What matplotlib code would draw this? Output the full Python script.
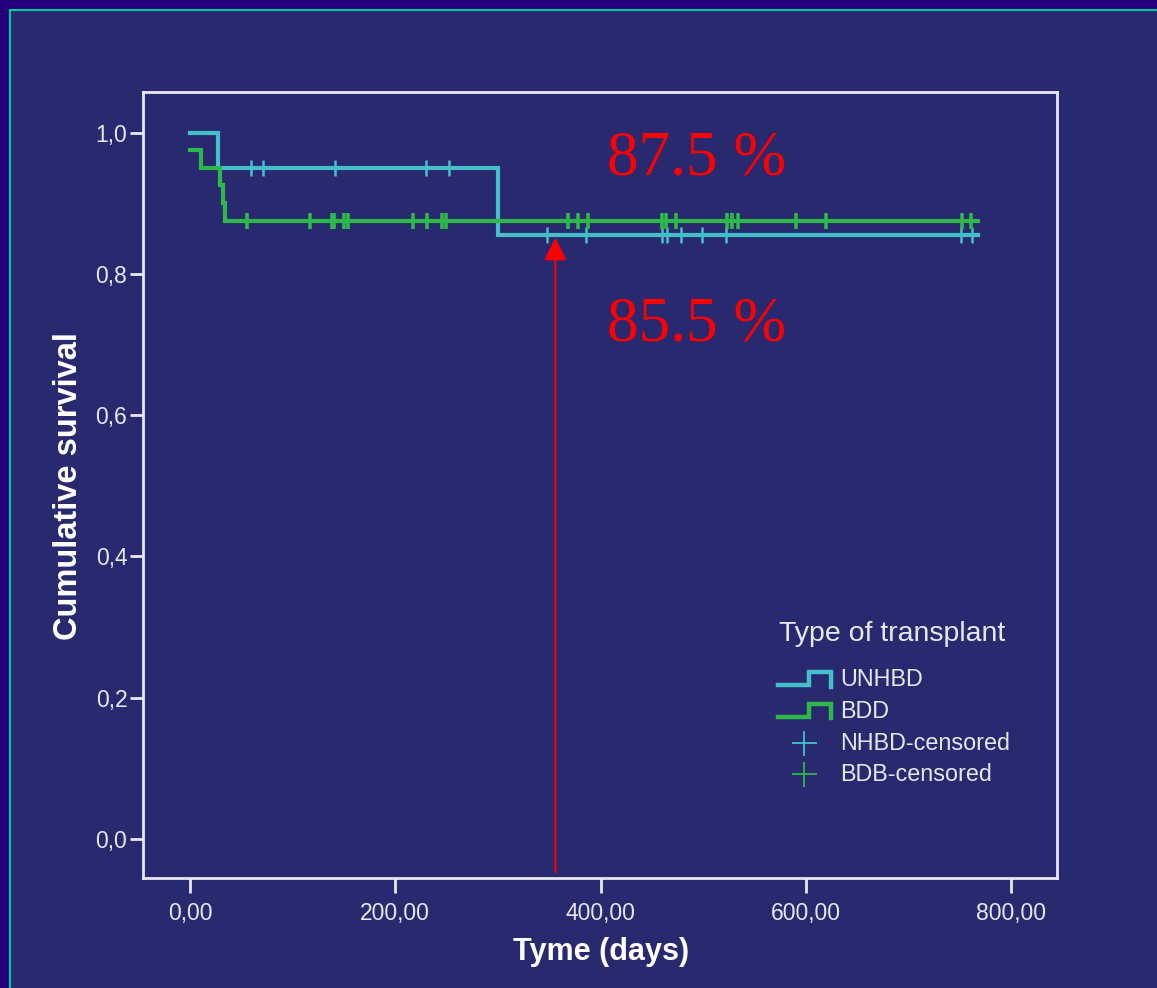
import matplotlib
matplotlib.use('Agg')
import matplotlib.pyplot as plt
from matplotlib.lines import Line2D
from matplotlib.patches import Rectangle

# ---------------- data ----------------
unhbd_times = [0, 27, 300, 768]
unhbd_surv = [1.0, 0.95, 0.855, 0.855]
bdd_times = [0, 11, 29, 32, 34, 768]
bdd_surv = [0.975, 0.95, 0.925, 0.90, 0.875, 0.875]

unhbd_cens_t = [59, 71, 141, 230, 252, 348, 386, 460, 465, 478, 499, 522, 751, 762]
unhbd_cens_s = [0.95, 0.95, 0.95, 0.95, 0.95, 0.855, 0.855, 0.855, 0.855, 0.855,
                0.855, 0.855, 0.855, 0.855]
bdd_cens_t = [56, 117, 138, 140, 150, 154, 217, 231, 246, 249, 368, 378, 388,
              460, 464, 474, 523, 528, 534, 590, 620, 752, 761]
bdd_cens_s = [0.875] * len(bdd_cens_t)

xticks = [0, 200, 400, 600, 800]
xtick_labels = ['0,00', '200,00', '400,00', '600,00', '800,00']
yticks = [0.0, 0.2, 0.4, 0.6, 0.8, 1.0]
ytick_labels = ['0,0', '0,2', '0,4', '0,6', '0,8', '1,0']

arrow_day = 356
arrow_top = 0.851
label_high = '87.5 %'
label_low = '85.5 %'

# ---------------- style ----------------
W, H = 1157, 988
CYAN = '#45bfc9'
GREEN = '#2fb84a'
PANEL = '#29296f'
OUTER = '#22007a'
FG = '#e8e8f2'

plt.rcParams['font.family'] = ['Liberation Sans', 'DejaVu Sans']

fig = plt.figure(figsize=(W / 100, H / 100), dpi=100)
fig.patch.set_facecolor(OUTER)


def fx(px):
    return px / W


def fy(py):
    return 1 - py / H


fig.add_artist(Rectangle((fx(10), fy(H + 20)), fx(W + 20) - fx(10), fy(10) - fy(H + 20),
                         facecolor=PANEL, edgecolor='#00c89a', lw=1.5,
                         transform=fig.transFigure, zorder=0))

ax = fig.add_axes([fx(143.3), fy(878.3), fx(1056.7) - fx(143.3), fy(92.3) - fy(878.3)])
ax.set_facecolor(PANEL)
ax.set_xlim(-45.5, 844.5)
ax.set_ylim(-0.0556, 1.0569)

ax.step(unhbd_times, unhbd_surv, where='post', color=CYAN, lw=3, zorder=3,
        solid_joinstyle='miter')
ax.step(bdd_times, bdd_surv, where='post', color=GREEN, lw=3, zorder=4,
        solid_joinstyle='miter')
ax.plot(unhbd_cens_t, unhbd_cens_s, ls='none', marker='|', ms=12, mew=1.8,
        color=CYAN, zorder=5)
ax.plot(bdd_cens_t, bdd_cens_s, ls='none', marker='|', ms=12, mew=2.6,
        color=GREEN, zorder=5)

ax.annotate('', xy=(arrow_day, arrow_top), xytext=(arrow_day, -0.047),
            arrowprops=dict(arrowstyle='-|>,head_length=1.0,head_width=0.5',
                            color='#ff0000', lw=1.4, shrinkA=0, shrinkB=0,
                            mutation_scale=14), zorder=6)

ax.text(406, 0.940, label_high, color='#ff0000', fontsize=45.5,
        family='Liberation Serif', va='baseline', ha='left', zorder=7)
ax.text(406, 0.706, label_low, color='#ff0000', fontsize=45.5,
        family='Liberation Serif', va='baseline', ha='left', zorder=7)

for s in ax.spines.values():
    s.set_color(FG)
    s.set_linewidth(2)

ax.set_xticks(xticks)
ax.set_xticklabels(xtick_labels)
ax.set_yticks(yticks)
ax.set_yticklabels(ytick_labels)
ax.tick_params(axis='x', colors=FG, length=11, width=2, pad=6, labelsize=16.5)
ax.tick_params(axis='y', colors=FG, length=9.5, width=2, pad=2, labelsize=16.5)

ax.set_xlabel('Tyme (days)', fontsize=22, fontweight='bold', color='white', va='center')
ax.xaxis.set_label_coords(0.501, -0.0938)
ax.set_ylabel('Cumulative survival', fontsize=23.5, fontweight='bold', color='white',
              va='center')
ax.yaxis.set_label_coords(-0.0824, 0.499)

# ---------------- legend ----------------
fig.text(fx(779), fy(634), 'Type of transplant', color=FG, fontsize=20.5,
         va='center', ha='left')


def step_icon(y_low, y_high, y_end, color):
    xs = [fx(778), fx(809), fx(809), fx(831), fx(831)]
    ys = [fy(y_low), fy(y_low), fy(y_high), fy(y_high), fy(y_end)]
    fig.add_artist(Line2D(xs, ys, color=color, lw=3.2, transform=fig.transFigure,
                          solid_joinstyle='miter'))


step_icon(685, 672, 687, CYAN)
step_icon(716.5, 703.5, 718, GREEN)
fig.text(fx(840), fy(679), 'UNHBD', color=FG, fontsize=16.8, va='center', ha='left')
fig.text(fx(840), fy(711.5), 'BDD', color=FG, fontsize=16.8, va='center', ha='left')
fig.add_artist(Line2D([fx(804)], [fy(743)], marker='+', ms=18, mew=1.3, color=CYAN,
                      transform=fig.transFigure))
fig.add_artist(Line2D([fx(804)], [fy(774)], marker='+', ms=18, mew=1.3, color=GREEN,
                      transform=fig.transFigure))
fig.text(fx(840), fy(743), 'NHBD-censored', color=FG, fontsize=16.8, va='center', ha='left')
fig.text(fx(840), fy(774), 'BDB-censored', color=FG, fontsize=16.8, va='center', ha='left')

fig.savefig('out.png', dpi=100, facecolor=fig.get_facecolor())
